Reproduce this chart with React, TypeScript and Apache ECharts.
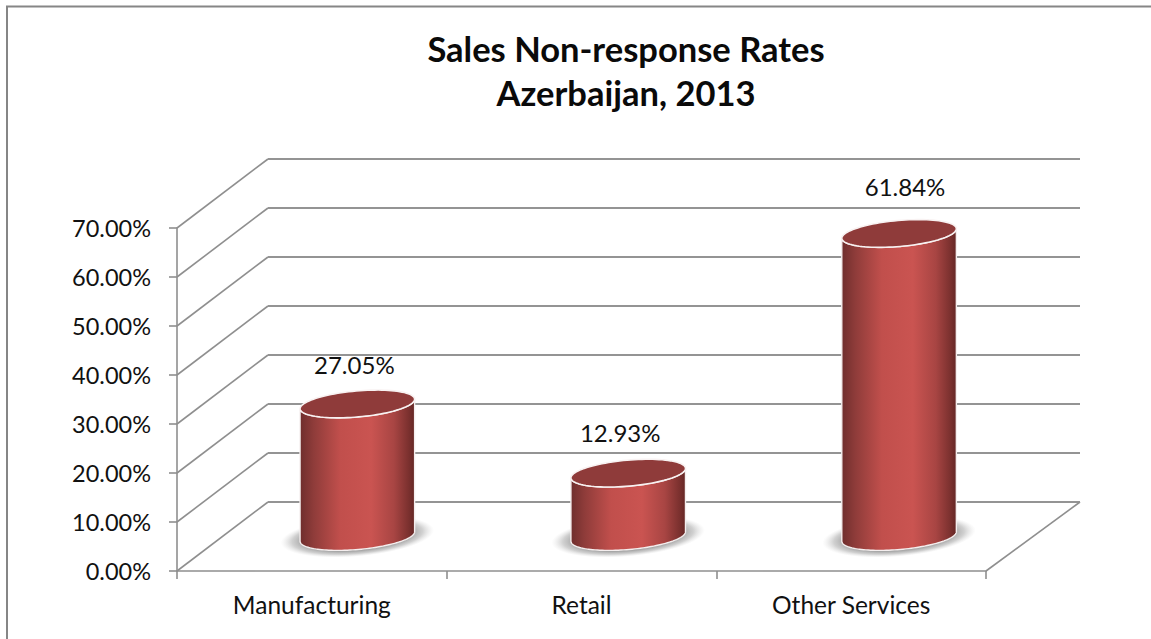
import React, { useEffect, useRef } from "react";
import * as echarts from "echarts";

const categories = ["Manufacturing", "Retail", "Other Services"];
const rates = [0.2705, 0.1293, 0.6184];
const rateLabels = ["27.05%", "12.93%", "61.84%"];
const yTicks = [0, 0.1, 0.2, 0.3, 0.4, 0.5, 0.6, 0.7];
const labelShift = [
  [-3, -39],
  [-8, -41],
  [6, -47],
];

const FONT = "Lato, Carlito, Calibri, sans-serif";
const LINE = "#8f8f8f";
const DEPTH_X = 91;
const DEPTH_X_RIGHT = 94;
const DEPTH_Y = -69;
const SKEW = 1.2;
const RX = 57.5;
const RY = 13;
const TILT = (5 * Math.PI) / 180;

function ellipsePoint(cx: number, cy: number, rx: number, ry: number, t: number) {
  const px = rx * Math.cos(t);
  const py = ry * Math.sin(t);
  return [cx + px * Math.cos(TILT) + py * Math.sin(TILT), cy - px * Math.sin(TILT) + py * Math.cos(TILT)];
}
function arcPoints(cx: number, cy: number, from: number, to: number, n = 64) {
  const out: number[][] = [];
  for (let i = 0; i <= n; i++) out.push(ellipsePoint(cx, cy, RX, RY, from + ((to - from) * i) / n));
  return out;
}

function renderWall(params: any, api: any) {
  const sys = params.coordSys;
  const y = api.coord([0, api.value(1)])[1];
  const x = sys.x;
  const by = y + DEPTH_Y;
  const children: any[] = [
    {
      type: "line",
      shape: { x1: x, y1: y, x2: x + DEPTH_X, y2: by },
      style: { stroke: LINE, lineWidth: 1.6 },
    },
    {
      type: "line",
      shape: { x1: x + DEPTH_X, y1: by, x2: x + sys.width + DEPTH_X_RIGHT, y2: by },
      style: { stroke: "#949494", lineWidth: 2 },
    },
  ];
  if (api.value(1) === 0) {
    children.push({
      type: "line",
      shape: { x1: x + sys.width + DEPTH_X_RIGHT, y1: by, x2: x + sys.width, y2: y },
      style: { stroke: LINE, lineWidth: 1.6 },
    });
  }
  return { type: "group", children };
}

function renderCylinder(params: any, api: any) {
  const i = api.value(0);
  const base = api.coord([i, 0]);
  const top = api.coord([i, api.value(1)]);
  const cx = base[0] + DEPTH_X / 2 + i * SKEW;
  const by = base[1] + DEPTH_Y / 2;
  const ty = top[1] + DEPTH_Y / 2;
  const lower = arcPoints(cx, by, Math.PI, 0);
  const upperEdge = arcPoints(cx, ty, 0, Math.PI);
  const body = lower.concat(upperEdge);
  const shift = labelShift[i];
  return {
    type: "group",
    children: [
      {
        type: "ellipse",
        x: cx,
        y: by,
        rotation: TILT,
        shape: { cx: 0, cy: 0, rx: 77, ry: 20 },
        style: {
          fill: new echarts.graphic.RadialGradient(0.5, 0.5, 0.5, [
            { offset: 0, color: "rgba(130,130,130,0.95)" },
            { offset: 0.66, color: "rgba(135,135,135,0.9)" },
            { offset: 0.85, color: "rgba(170,170,170,0.55)" },
            { offset: 1, color: "rgba(210,210,210,0)" },
          ]),
        },
      },
      {
        type: "polygon",
        shape: { points: body },
        style: {
          fill: new echarts.graphic.LinearGradient(0, 0, 1, 0, [
            { offset: 0, color: "#6f2e2d" },
            { offset: 0.12, color: "#8f3c3a" },
            { offset: 0.35, color: "#c14f4c" },
            { offset: 0.62, color: "#ca5451" },
            { offset: 0.82, color: "#a84543" },
            { offset: 0.95, color: "#7a302e" },
            { offset: 1, color: "#642725" },
          ]),
          stroke: "#f4eeee",
          lineWidth: 1.4,
        },
      },
      {
        type: "polygon",
        shape: { points: arcPoints(cx, ty, 0, Math.PI * 2, 96) },
        style: { fill: "#8f3b3a", stroke: "#f8f2f2", lineWidth: 1.6 },
      },
      {
        type: "text",
        style: {
          text: rateLabels[i],
          x: cx + shift[0],
          y: ty + shift[1],
          align: "center",
          verticalAlign: "middle",
          fill: "#111111",
          fontFamily: FONT,
          fontSize: 24,
        },
      },
    ],
  };
}

export default function App() {
  const ref = useRef<HTMLDivElement>(null);
  useEffect(() => {
    document.body.style.margin = "0";
    const chart = echarts.init(ref.current!, null, { renderer: "svg" });
    chart.setOption({
      animation: false,
      backgroundColor: "#ffffff",
      title: {
        text: "Sales Non-response Rates\nAzerbaijan, 2013",
        left: 621,
        top: 21,
        textAlign: "center",
        textStyle: { fontFamily: FONT, fontWeight: "bold", fontSize: 34.5, lineHeight: 44, color: "#0a0a0a" },
      },
      graphic: [
        {
          type: "polyline",
          shape: { points: [[7, 639], [7, 6.5], [1151, 6.5]] },
          style: { stroke: "#868686", lineWidth: 2, fill: "none" },
        },
      ],
      grid: { left: 177, top: 228, width: 809, height: 343, containLabel: false },
      xAxis: {
        type: "category",
        data: categories,
        axisLine: { lineStyle: { color: LINE, width: 1.6 } },
        axisTick: { show: true, length: 8, lineStyle: { color: LINE, width: 1.6 } },
        axisLabel: { color: "#111111", fontFamily: FONT, fontSize: 24.5, margin: 21, interval: 0 },
        splitLine: { show: false },
      },
      yAxis: {
        type: "value",
        min: 0,
        max: 0.7,
        interval: 0.1,
        axisLine: { show: true, lineStyle: { color: LINE, width: 1.6 } },
        axisTick: { show: true, length: 8, lineStyle: { color: LINE, width: 1.6 } },
        axisLabel: {
          color: "#111111",
          fontFamily: FONT,
          fontSize: 23.5,
          margin: 26,
          formatter: (v: number) => (v * 100).toFixed(2) + "%",
        },
        splitLine: { show: false },
      },
      series: [
        {
          type: "custom",
          name: "Walls",
          silent: true,
          z: 1,
          renderItem: renderWall,
          encode: { x: 0, y: 1 },
          data: yTicks.map((t) => [0, t]),
        },
        {
          type: "custom",
          name: "Sales non-response rate",
          silent: true,
          z: 3,
          renderItem: renderCylinder,
          encode: { x: 0, y: 1 },
          data: rates.map((r, i) => [i, r]),
        },
      ],
    });
    return () => chart.dispose();
  }, []);
  return <div ref={ref} style={{ position: "fixed", left: 0, top: 0, width: 1151, height: 639 }} />;
}
